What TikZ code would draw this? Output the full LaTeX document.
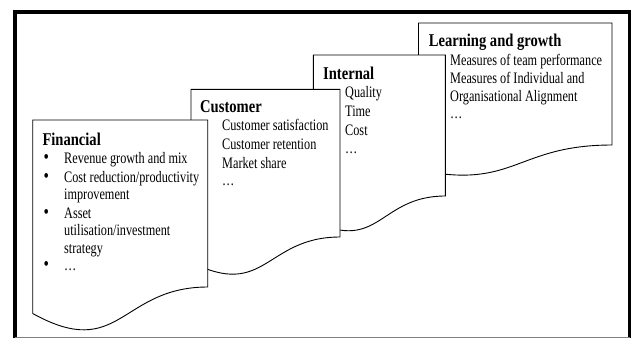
\documentclass[tikz,border=0pt]{standalone}
\usepackage{fontspec}
\setmainfont{Liberation Serif}[FakeStretch=0.765]
\newfontfamily\headfont{Liberation Serif}[FakeStretch=0.81]
\begin{document}
\begin{tikzpicture}[x=1pt,y=-1pt,
  sheet/.style={draw=black, fill=white, line width=0.9pt, line join=miter},
  frameline/.style={draw=black, line width=3.6pt, line join=miter},
  head/.style={anchor=base west, inner sep=0pt, font=\headfont\fontsize{18}{20}\selectfont\bfseries},
  item/.style={anchor=base west, inner sep=0pt, font=\fontsize{16}{18}\selectfont},
  bul/.style={anchor=base, inner sep=0pt, font=\fontsize{20}{20}\selectfont}]
\useasboundingbox (0,0) rectangle (631,338);
% document sheet: left, right, top, bottom-left y, bulge control y, bottom-right y
\newcommand\docsheet[6]{%
  \path[sheet] (#1,#4) -- (#1,#3) -- (#2,#3) -- (#2,#6)
    .. controls ({(#1+#2)/2},#6) and ({(#1+#2)/2},#5) .. (#1,#4) -- cycle;}

% outer frame
\draw[frameline] (15,338) -- (15,12) -- (629.5,12) -- (629.5,338);
\draw[gray, line width=1pt] (15,337) -- (629.5,337);

% sheets, back to front
\docsheet{418.5}{612}{23}{170}{190}{145}
\docsheet{313.3}{445.3}{55}{221}{253}{196}
\docsheet{191}{340}{89.3}{262}{300}{237}
\docsheet{32.7}{207.7}{120}{313.5}{362}{287}

% Learning and growth
\node[head] (lgh) at (428.6,46.7) {Learning and growth};
\node[item] (lg1) at (450,65.5) {Measures of team performance};
\node[item] (lg2) at (450,83.5) {Measures of Individual and};
\node[item] (lg3) at (450,101.5) {Organisational Alignment};
\node[item] (lg4) at (450,118.5) {…};

% Internal
\node[head] (inh) at (323,79.3) {Internal};
\node[item] (in1) at (345,97.5) {Quality};
\node[item] (in2) at (345,116) {Time};
\node[item] (in3) at (345,135) {Cost};
\node[item] (in4) at (345,153.5) {…};

% Customer
\node[head] (cuh) at (200,112.5) {Customer};
\node[item] (cu1) at (222,130.5) {Customer satisfaction};
\node[item] (cu2) at (222,149) {Customer retention};
\node[item] (cu3) at (222,168) {Market share};
\node[item] (cu4) at (222,185.5) {…};

% Financial
\node[head] (fih) at (42.3,145.5) {Financial};
\node[bul] (fb1) at (46.3,163.5) {•};
\node[item] (fi1) at (64,163) {Revenue growth and mix};
\node[bul] (fb2) at (46.3,182.5) {•};
\node[item] (fi2) at (64,182) {Cost reduction/productivity};
\node[item] (fi2b) at (64,199.5) {improvement};
\node[bul] (fb3) at (46.3,218.5) {•};
\node[item] (fi3) at (64,218) {Asset};
\node[item] (fi3b) at (64,235) {utilisation/investment};
\node[item] (fi3c) at (64,253) {strategy};
\node[bul] (fb4) at (46.3,270.5) {•};
\node[item] (fi4) at (64,270) {…};
\end{tikzpicture}
\end{document}
